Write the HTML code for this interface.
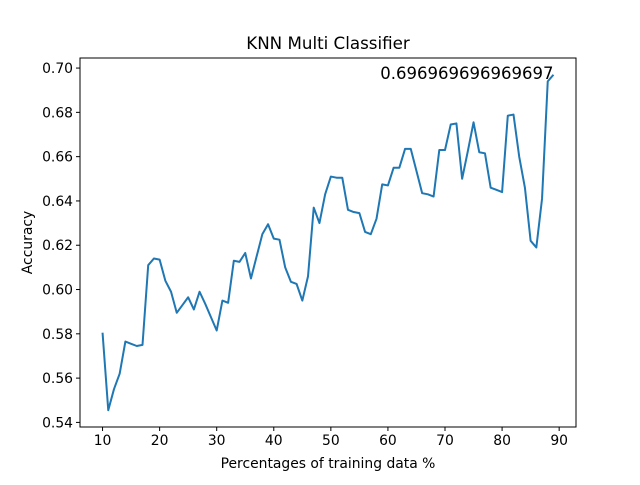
<!DOCTYPE html>
<html><head><meta charset="utf-8"><style>body{margin:0;background:#fff}svg text{font-family:"DejaVu Sans","Liberation Sans",sans-serif;fill:#000}</style></head>
<body>
<svg id="c" width="640" height="480" xmlns="http://www.w3.org/2000/svg">
<rect width="640" height="480" fill="#fff"/>
<text x="328" y="49" text-anchor="middle" font-size="16.7">KNN Multi Classifier</text>
<text x="328" y="468" text-anchor="middle" font-size="13.9">Percentages of training data %</text>
<text transform="translate(32,242.5) rotate(-90)" text-anchor="middle" font-size="13.9">Accuracy</text>
<g id="ticks"></g>
<polyline id="line" fill="none" stroke="#1f77b4" stroke-width="2" stroke-linejoin="round"/>
<text id="ann" font-size="16.5" text-anchor="end"></text>
<rect x="80" y="58" width="496" height="369" fill="none" stroke="#000" stroke-width="1"/>
</svg>
<script>
const xs=[];for(let i=10;i<=89;i++)xs.push(i);
const accuracy=[0.5805,0.5455,0.555,0.562,0.5765,0.5755,0.5745,0.575,0.611,0.614,0.6135,0.604,0.599,0.5895,0.593,0.5965,0.591,0.599,0.5935,0.5875,0.5815,0.595,0.594,0.613,0.6125,0.6165,0.605,0.615,0.625,0.6295,0.623,0.6225,0.61,0.6035,0.6025,0.595,0.606,0.637,0.63,0.643,0.651,0.6505,0.6505,0.636,0.635,0.6345,0.626,0.625,0.632,0.6475,0.647,0.655,0.655,0.6635,0.6635,0.6535,0.6435,0.643,0.642,0.663,0.663,0.6745,0.675,0.65,0.6625,0.6755,0.662,0.6615,0.646,0.645,0.644,0.6785,0.679,0.66,0.646,0.622,0.619,0.641,0.694,0.69697];
const xTicks=[10,20,30,40,50,60,70,80,90];
const yTicks=[0.54,0.56,0.58,0.60,0.62,0.64,0.66,0.68,0.70];
const annLabel="0.696969696969697";
const L=80,R=576,T=58,B=427;
const xmin=Math.min(...xs),xmax=Math.max(...xs),xm=(xmax-xmin)*0.05;
const ymin=Math.min(...accuracy),ymax=Math.max(...accuracy),ym=(ymax-ymin)*0.05;
const sx=v=>L+(v-(xmin-xm))/((xmax+xm)-(xmin-xm))*(R-L);
const sy=v=>B-(v-(ymin-ym))/((ymax+ym)-(ymin-ym))*(B-T);
const NS="http://www.w3.org/2000/svg",g=document.getElementById('ticks');
function mk(t,a){const e=document.createElementNS(NS,t);for(const k in a)e.setAttribute(k,a[k]);g.appendChild(e);return e;}
xTicks.forEach(t=>{const x=sx(t);
const l=mk('line',{x1:x,x2:x,y1:B,y2:B+4,stroke:'#000'});


const s=mk('text',{x:x,y:B+18,'text-anchor':'middle','font-size':'13.9'});s.textContent=t;

});
yTicks.forEach(t=>{const y=sy(t);
const l=mk('line',{x1:L-4,x2:L,y1:y,y2:y,stroke:'#000'});


const s=mk('text',{x:L-7,y:y+5,'text-anchor':'end','font-size':'13.9'});s.textContent=t.toFixed(2);

});
document.getElementById('line').setAttribute('points',xs.map((x,i)=>sx(x)+','+sy(accuracy[i])).join(' '));
const a=document.getElementById('ann');a.textContent=annLabel;
a.setAttribute('x',sx(xs[xs.length-1]));a.setAttribute('y',sy(accuracy[accuracy.length-1])+4);
</script>
</body></html>
